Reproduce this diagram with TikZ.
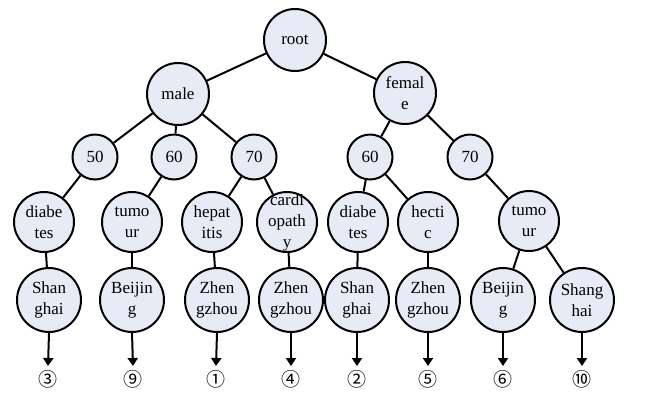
\documentclass[tikz,border=0pt]{standalone}
\usepackage{fontspec}
\setmainfont{Liberation Serif}
\newfontfamily\cjkf{Noto Sans CJK SC}
\usetikzlibrary{arrows.meta}
\definecolor{nodefill}{HTML}{E6EBF6}
\begin{document}
\begin{tikzpicture}[x=1pt,y=-1pt,
  circ/.style={circle,draw=black,line width=2pt,fill=nodefill,inner sep=0pt},
  big/.style={circ,minimum size=62pt},
  small/.style={circ,minimum size=45pt},
  mid/.style={circ,minimum size=60pt},
  leaf/.style={circ,minimum size=64pt},
  txt/.style={align=center,inner sep=0pt,font=\fontsize{17}{21}\selectfont},
  num/.style={inner sep=0pt,font=\cjkf\fontsize{19}{19}\selectfont},
  edge/.style={line width=2pt},
  arr/.style={line width=2pt,-{Triangle[width=10pt,length=8pt]}}]
\useasboundingbox (0,0) rectangle (656,392);
% level 0-1
\node[big] (root) at (295,40) {};
\node[big] (male) at (178,94) {};
\node[big] (female) at (405,93) {};
% level 2
\node[small] (m50) at (95,157) {};
\node[small] (m60) at (174,157) {};
\node[small] (m70) at (254,157) {};
\node[small] (f60) at (370,157) {};
\node[small] (f70) at (470,157) {};
% level 3
\node[mid] (diab1) at (44,222) {};
\node[mid] (tum1) at (132,222) {};
\node[mid] (hep) at (212,222) {};
\node[mid] (card) at (287,222) {};
\node[mid] (diab2) at (358,222) {};
\node[mid] (hect) at (428,222) {};
\node[mid] (tum2) at (529,221) {};
% level 4
\node[leaf] (sh1) at (49,300) {};
\node[leaf] (bj1) at (132,300) {};
\node[leaf] (zz1) at (217,300) {};
\node[leaf] (zz2) at (291,300) {};
\node[leaf] (sh2) at (357,300) {};
\node[leaf] (zz3) at (428,300) {};
\node[leaf] (bj2) at (503,300) {};
\node[leaf] (sh3) at (582,300) {};
% texts
\node[txt] (t-root) at (root) {root};
\node[txt] (t-male) at (male) {male};
\node[txt] (t-female) at (female) {femal\\e};
\node[txt] (t-m50) at (m50) {50};
\node[txt] (t-m60) at (m60) {60};
\node[txt] (t-m70) at (m70) {70};
\node[txt] (t-f60) at (f60) {60};
\node[txt] (t-f70) at (f70) {70};
\node[txt] (t-diab1) at (diab1) {diabe\\tes};
\node[txt] (t-tum1) at (tum1) {tumo\\ur};
\node[txt] (t-hep) at (hep) {hepat\\itis};
\node[txt] (t-card) at (card) {cardi\\opath\\y};
\node[txt] (t-diab2) at (diab2) {diabe\\tes};
\node[txt] (t-hect) at (hect) {hecti\\c};
\node[txt] (t-tum2) at (tum2) {tumo\\ur};
\node[txt] (t-sh1) at (sh1) {Shan\\ghai};
\node[txt] (t-bj1) at (bj1) {Beijin\\g};
\node[txt] (t-zz1) at (zz1) {Zhen\\gzhou};
\node[txt] (t-zz2) at (zz2) {Zhen\\gzhou};
\node[txt] (t-sh2) at (sh2) {Shan\\ghai};
\node[txt] (t-zz3) at (zz3) {Zhen\\gzhou};
\node[txt] (t-bj2) at (bj2) {Beijin\\g};
\node[txt] (t-sh3) at (sh3) {Shang\\hai};
% edges
\draw[edge] (root) -- (male);
\draw[edge] (root) -- (female);
\draw[edge] (male) -- (m50);
\draw[edge] (male) -- (m60);
\draw[edge] (male) -- (m70);
\draw[edge] (female) -- (f60);
\draw[edge] (female) -- (f70);
\draw[edge] (m50) -- (diab1);
\draw[edge] (m60) -- (tum1);
\draw[edge] (m70) -- (hep);
\draw[edge] (m70) -- (card);
\draw[edge] (f60) -- (diab2);
\draw[edge] (f60) -- (hect);
\draw[edge] (f70) -- (tum2);
\draw[edge] (diab1) -- (sh1);
\draw[edge] (tum1) -- (bj1);
\draw[edge] (hep) -- (zz1);
\draw[edge] (card) -- (zz2);
\draw[edge] (diab2) -- (sh2);
\draw[edge] (hect) -- (zz3);
\draw[edge] (tum2) -- (bj2);
\draw[edge] (tum2) -- (sh3);
% result arrows
\foreach \n/\x/\lab in {sh1/48/③, bj1/133/⑨, zz1/216/①, zz2/291/④, sh2/357/②, zz3/428/⑤, bj2/503/⑥, sh3/582/⑩}{
  \coordinate (e-\n) at (\x,366);
  \draw[arr] (\n.south) -- (e-\n);
  \node[num] (r-\n) at (\x,379) {\lab};
}
\end{tikzpicture}
\end{document}
